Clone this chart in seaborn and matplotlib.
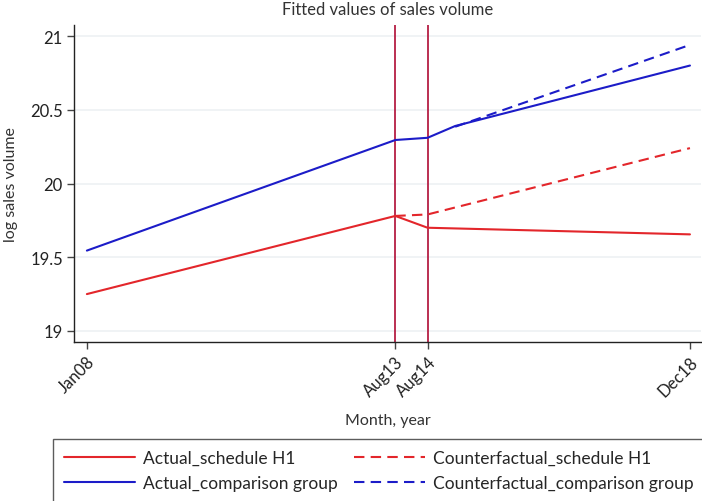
import pandas as pd
import seaborn as sns
import matplotlib.pyplot as plt
from matplotlib.lines import Line2D

# months since Jan08 (positions)
tick_pos = [0, 67, 74, 131]
tick_labels = ["Jan08", "Aug13", "Aug14", "Dec18"]
policy_lines = [67, 74]

# fitted values
act_h1_x = [0, 67, 74, 131]
act_h1_y = [19.25, 19.78, 19.70, 19.655]
cf_h1_x = [67, 74, 131]
cf_h1_y = [19.78, 19.79, 20.24]
act_cmp_x = [0, 67, 74, 80, 131]
act_cmp_y = [19.545, 20.295, 20.31, 20.39, 20.80]
cf_cmp_x = [80, 131]
cf_cmp_y = [20.385, 20.94]

frames = []
for name, xs, ys in [
    ("Actual_schedule H1", act_h1_x, act_h1_y),
    ("Counterfactual_schedule H1", cf_h1_x, cf_h1_y),
    ("Actual_comparison group", act_cmp_x, act_cmp_y),
    ("Counterfactual_comparison group", cf_cmp_x, cf_cmp_y),
]:
    frames.append(pd.DataFrame({"month": xs, "value": ys, "series": name}))
df = pd.concat(frames, ignore_index=True)

sns.set_style("white")
plt.rcParams["font.family"] = ["Lato", "DejaVu Sans"]

red = "#e3262b"
blue = "#1c1cc8"
palette = {
    "Actual_schedule H1": red,
    "Counterfactual_schedule H1": red,
    "Actual_comparison group": blue,
    "Counterfactual_comparison group": blue,
}
dashes = {
    "Actual_schedule H1": "",
    "Counterfactual_schedule H1": (5, 3),
    "Actual_comparison group": "",
    "Counterfactual_comparison group": (5, 3),
}

fig = plt.figure(figsize=(7.02, 5.02), dpi=100)
ax = fig.add_axes([74 / 702, (502 - 343) / 502, 627 / 702, (343 - 26) / 502])

for y in [19, 19.5, 20, 20.5, 21]:
    ax.axhline(y, color="#edf1f4", lw=1.2, zorder=0)
for x in policy_lines:
    ax.axvline(x, color="#b51f44", lw=1.3, zorder=1)

sns.lineplot(data=df, x="month", y="value", hue="series", style="series",
             palette=palette, dashes=dashes, linewidth=1.5, ax=ax,
             legend=False, zorder=3)

ax.set_xlim(-2.8, 133.4)
ax.set_ylim(18.925, 21.075)
ax.set_xticks(tick_pos)
ax.set_xticklabels(tick_labels, rotation=45, ha="right", rotation_mode="anchor")
ax.set_yticks([19, 19.5, 20, 20.5, 21])
ax.set_yticklabels(["19", "19.5", "20", "20.5", "21"])
ax.tick_params(axis="both", length=5, width=1, color="#444444", labelsize=12,
               labelcolor="#222222", bottom=True, left=True, pad=3)
for s in ["top", "right"]:
    ax.spines[s].set_visible(False)
for s in ["left", "bottom"]:
    ax.spines[s].set_color("#222222")
    ax.spines[s].set_linewidth(1)

ax.set_title("Fitted values of sales volume", fontsize=12, color="#333333", pad=8)
ax.set_xlabel("Month, year", fontsize=11.5, color="#333333", labelpad=10)
ax.set_ylabel("log sales volume", fontsize=11.5, color="#333333", labelpad=9)

handles = [
    Line2D([], [], color=red, lw=1.5),
    Line2D([], [], color=blue, lw=1.5),
    Line2D([], [], color=red, lw=1.5, ls=(0, (5, 3))),
    Line2D([], [], color=blue, lw=1.5, ls=(0, (5, 3))),
]
labels = ["Actual_schedule H1", "Actual_comparison group",
          "Counterfactual_schedule H1", "Counterfactual_comparison group"]
leg = fig.legend(handles, labels, ncol=2, loc="upper left",
                 bbox_to_anchor=(53 / 702, (502 - 440) / 502),
                 fontsize=12.5, handlelength=4.1, handletextpad=0.45,
                 columnspacing=0.9, frameon=True, fancybox=False,
                 borderaxespad=0, borderpad=0.65, labelspacing=0.5)
leg.get_frame().set_edgecolor("#333333")
leg.get_frame().set_linewidth(1)

fig.savefig("out.png", dpi=100)
